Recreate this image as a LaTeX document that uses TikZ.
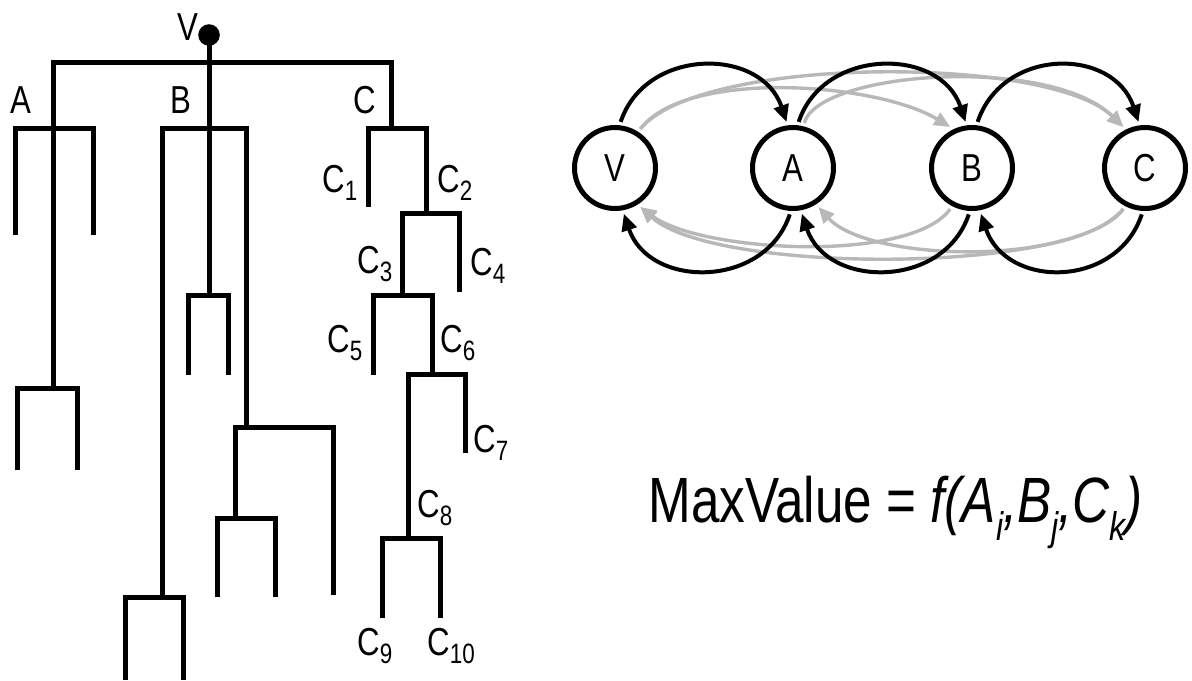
\documentclass[tikz,border=0pt]{standalone}
\usepackage{fontspec}
\setmainfont{Liberation Sans}[FakeStretch=0.8]
\usetikzlibrary{arrows.meta}
\newcommand\lblfont{\fontsize{19.5}{20}\selectfont}
\newcommand\csb[1]{\raisebox{-4pt}{\fontsize{14}{14}\selectfont #1}}
\newcommand\fsb[1]{\raisebox{-9pt}{\fontsize{20}{20}\selectfont #1}}
\begin{document}
\begin{tikzpicture}[x=0.5pt,y=-0.5pt,
  tree/.style={line width=2.5pt},
  lbl/.style={inner sep=0pt, anchor=base west, font=\lblfont},
  gnode/.style={circle, draw, line width=2.5pt, minimum size=40.5pt, inner sep=0pt, outer sep=3pt, fill=white, font=\lblfont},
  blk/.style={line width=2pt, -{Triangle[length=8.5pt,width=7.5pt]}},
  gry/.style={line width=1.7pt, color=black!28, -{Triangle[length=8pt,width=7pt]}},
]
\useasboundingbox (0,0) rectangle (1192,680);

% ---------------- tree ----------------
\node[circle, fill=black, inner sep=0pt, minimum size=10.8pt] (root) at (209,35) {};
\draw[tree] (root.center) -- (209,295);
% top bar, A stem, C stem
\draw[tree] (53,388) |- (391,62) -- (391,128);
% A subtree
\draw[tree] (15,235) |- (93,128) -- (93,235);
\draw[tree] (17,470) |- (77,388) -- (77,470);
% B subtree
\draw[tree] (162,597) |- (246,128) -- (246,427);
\draw[tree] (188,375) |- (228,295) -- (228,375);
\draw[tree] (125,680) |- (183,597) -- (183,680);
\draw[tree] (235,518) |- (333,427) -- (333,595);
\draw[tree] (217,597) |- (275,518) -- (275,597);
% C subtree
\draw[tree] (368,207) |- (426,128) -- (426,213);
\draw[tree] (402,295) |- (459,213) -- (459,292);
\draw[tree] (373,375) |- (432,295) -- (432,374);
\draw[tree] (408,538) |- (465,374) -- (465,453);
\draw[tree] (382,618) |- (440,538) -- (440,618);

% labels
\node[lbl] (tV) at (177,40) {V};
\node[lbl] (tA) at (10,113) {A};
\node[lbl] (tB) at (170,113) {B};
\node[lbl] (tC) at (353,113) {C};
\node[lbl] (c1) at (322,192) {C\csb{1}};
\node[lbl] (c2) at (437,192) {C\csb{2}};
\node[lbl] (c3) at (357,273) {C\csb{3}};
\node[lbl] (c4) at (470,275) {C\csb{4}};
\node[lbl] (c5) at (327,352) {C\csb{5}};
\node[lbl] (c6) at (440,352) {C\csb{6}};
\node[lbl] (c7) at (473,452) {C\csb{7}};
\node[lbl] (c8) at (417,517) {C\csb{8}};
\node[lbl] (c9) at (357,655) {C\csb{9}};
\node[lbl] (c10) at (427,655) {C\csb{10}};

% ---------------- graph ----------------
\node[gnode] (V) at (615,168) {V};
\node[gnode] (A) at (793,168) {A};
\node[gnode] (B) at (972,168) {B};
\node[gnode] (C) at (1145,168) {C};

% gray arcs (skip connections)
\draw[gry] (V.57) .. controls +(45,-60) and +(-75,-45) .. (B.118);
\draw[gry] (V.57) .. controls +(60,-74) and +(-73,-72) .. (C.118);
\draw[gry] (A.76) .. controls +(15,-52) and +(-73,-72) .. (C.118);
\draw[gry] (B.242) .. controls +(-40,55) and +(60,45) .. (V.303);
\draw[gry] (C.242) .. controls +(-45,65) and +(75,68) .. (V.303);
\draw[gry] (C.242) .. controls +(-50,58) and +(50,55) .. (A.303);

% black arcs (adjacent)
\draw[blk] (V.83) .. controls +(25,-75) and +(-25,-75) .. (A.98);
\draw[blk] (A.83) .. controls +(25,-75) and +(-25,-75) .. (B.98);
\draw[blk] (B.83) .. controls +(25,-75) and +(-25,-75) .. (C.98);
\draw[blk] (A.266) .. controls +(-25,75) and +(25,75) .. (V.281);
\draw[blk] (B.266) .. controls +(-25,75) and +(25,75) .. (A.281);
\draw[blk] (C.266) .. controls +(-25,75) and +(25,75) .. (B.281);

% formula
\node[inner sep=0pt, anchor=base west, font=\fontsize{32}{34}\selectfont] (fm) at (648,522)
  {MaxValue = {\itshape f(A\fsb{i},B\fsb{j},C\fsb{k})}};
\end{tikzpicture}
\end{document}
